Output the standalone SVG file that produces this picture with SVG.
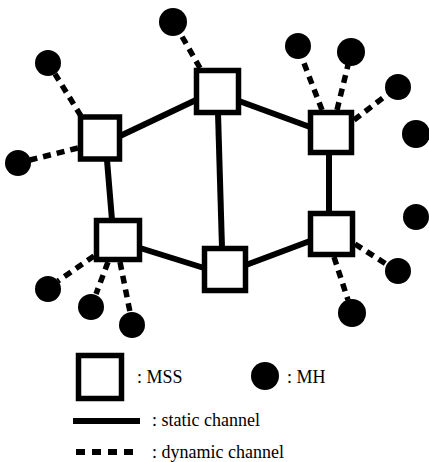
<svg xmlns="http://www.w3.org/2000/svg" width="429" height="462" viewBox="0 0 429 462">
<style>
.mss{fill:#fff;stroke:#000;stroke-width:5.5}
.mh{fill:#000}
.st{stroke:#000;stroke-width:6;fill:none}
.dy{stroke:#000;stroke-width:5.5;stroke-dasharray:8 6;fill:none}
</style>
<rect width="429" height="462" fill="#fff"/>
<g id="connectors">
<line class="st" x1="120" y1="136" x2="196" y2="100"/>
<line class="st" x1="239" y1="101" x2="310" y2="127"/>
<line class="st" x1="107" y1="160" x2="112" y2="220"/>
<line class="st" x1="218" y1="113" x2="222" y2="248"/>
<line class="st" x1="329" y1="153" x2="329" y2="213"/>
<line class="st" x1="140" y1="248" x2="204" y2="268"/>
<line class="st" x1="246" y1="265" x2="310" y2="241"/>
<line class="dy" x1="81" y1="116" x2="55" y2="74"/>
<line class="dy" x1="78" y1="148" x2="30" y2="160"/>
<line class="dy" x1="200" y1="68" x2="180" y2="33"/>
<line class="dy" x1="322" y1="110" x2="302" y2="58"/>
<line class="dy" x1="337" y1="110" x2="348" y2="65"/>
<line class="dy" x1="354" y1="120" x2="388" y2="94"/>
<line class="dy" x1="94" y1="256" x2="58" y2="281"/>
<line class="dy" x1="108" y1="262" x2="96" y2="294"/>
<line class="dy" x1="120" y1="262" x2="130" y2="312"/>
<line class="dy" x1="355" y1="244" x2="386" y2="264"/>
<line class="dy" x1="334" y1="257" x2="348" y2="300"/>
</g>
<g id="mss-a"><rect class="mss" x="80.5" y="117" width="39" height="42"/></g>
<g id="mss-b"><rect class="mss" x="196.5" y="70.5" width="42" height="42"/></g>
<g id="mss-c"><rect class="mss" x="310.5" y="112.5" width="41" height="40"/></g>
<g id="mss-d"><rect class="mss" x="96.5" y="220.5" width="43" height="39"/></g>
<g id="mss-e"><rect class="mss" x="204.5" y="248.5" width="41" height="42"/></g>
<g id="mss-f"><rect class="mss" x="310.5" y="213.5" width="42" height="41"/></g>
<g id="mh-1"><circle class="mh" cx="173" cy="22" r="14"/></g>
<g id="mh-2"><circle class="mh" cx="48" cy="63" r="13"/></g>
<g id="mh-3"><circle class="mh" cx="18" cy="163" r="13"/></g>
<g id="mh-4"><circle class="mh" cx="298" cy="46" r="13"/></g>
<g id="mh-5"><circle class="mh" cx="351" cy="52" r="14"/></g>
<g id="mh-6"><circle class="mh" cx="398" cy="87" r="13"/></g>
<g id="mh-7"><circle class="mh" cx="416" cy="134" r="14"/></g>
<g id="mh-8"><circle class="mh" cx="48" cy="289" r="13"/></g>
<g id="mh-9"><circle class="mh" cx="91" cy="307" r="13"/></g>
<g id="mh-10"><circle class="mh" cx="132" cy="325" r="13"/></g>
<g id="mh-11"><circle class="mh" cx="416" cy="217" r="13"/></g>
<g id="mh-12"><circle class="mh" cx="398" cy="271" r="13"/></g>
<g id="mh-13"><circle class="mh" cx="352" cy="313" r="14"/></g>
<g id="legend" font-family="'Liberation Serif', 'DejaVu Serif', serif" font-size="18" fill="#000">
<rect class="mss" x="78.5" y="355.5" width="43" height="43"/>
<text x="137" y="383">: MSS</text>
<circle class="mh" cx="265" cy="376" r="14"/>
<text x="287" y="383">: MH</text>
<line class="st" x1="73" y1="421" x2="140" y2="421"/>
<text x="152" y="426">: static channel</text>
<line class="dy" x1="76" y1="452" x2="133" y2="452" style="stroke-width:6;stroke-dasharray:9 7"/>
<text x="152" y="458">: dynamic channel</text>
</g>
</svg>
